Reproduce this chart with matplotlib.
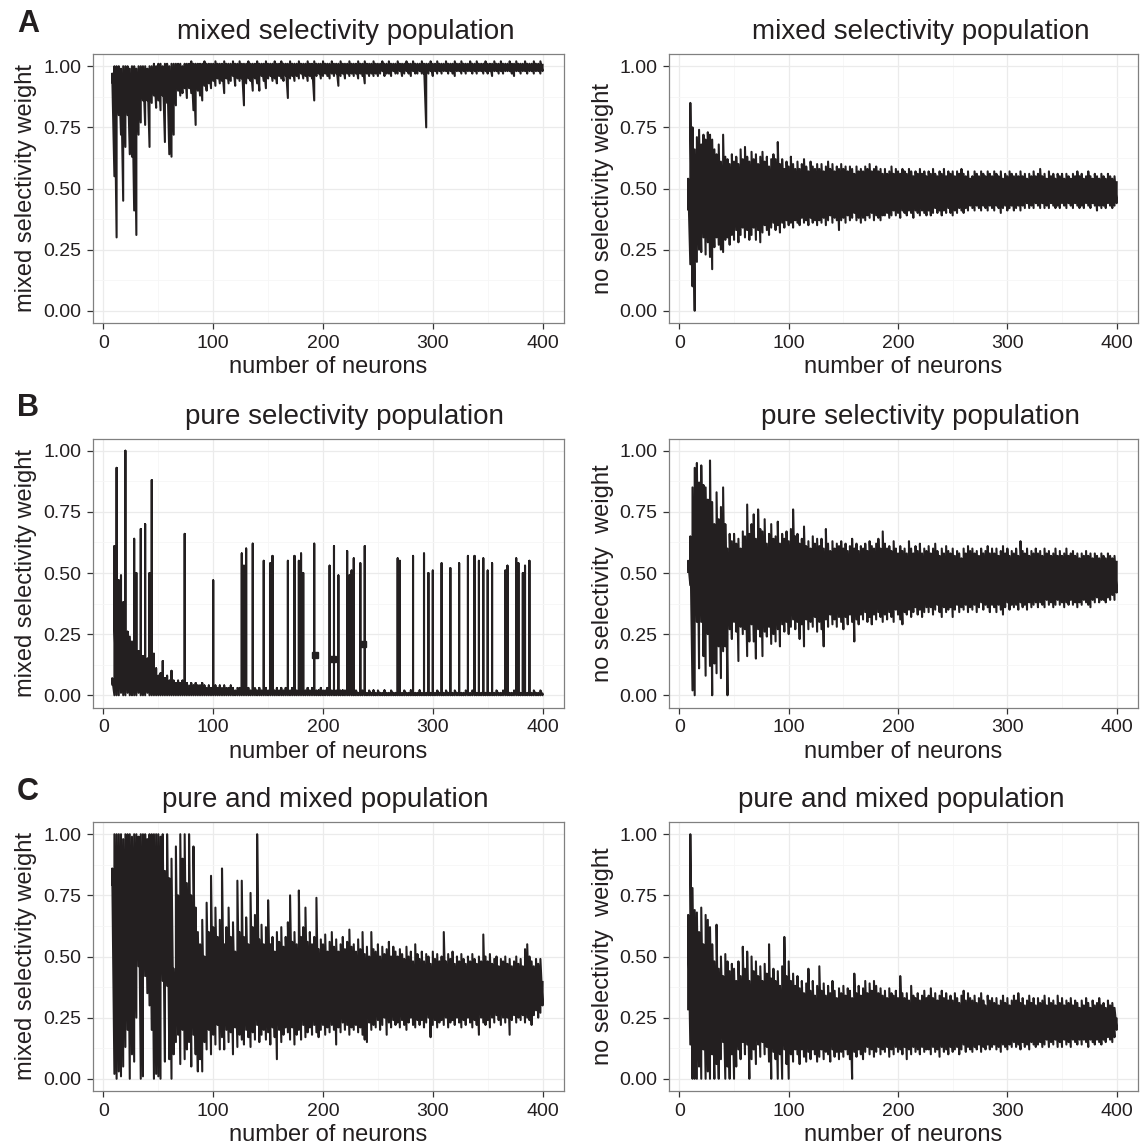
import numpy as np
import matplotlib
matplotlib.use("Agg")
import matplotlib.pyplot as plt
from matplotlib.ticker import FixedLocator

plt.rcParams['font.family'] = ['Liberation Sans', 'DejaVu Sans']

INK = '#231F20'

# neuron counts: first value at 8, then every 2 neurons up to 400
neuron_start = 8
neuron_step = 2

x_ticks = [0, 100, 200, 300, 400]
y_ticks = [0.0, 0.25, 0.5, 0.75, 1.0]
y_tick_labels = ['0.00', '0.25', '0.50', '0.75', '1.00']

# ---------------- Row A: mixed selectivity population ----------------
a_mixed_lo = [
    0.93, 0.55, 0.30, 0.80, 0.72, 0.45, 0.67, 0.80, 0.64, 0.63,
    0.41, 0.31, 0.72, 0.77, 0.86, 0.76, 0.86, 0.67, 0.85, 0.88,
    0.83, 0.86, 0.82, 0.88, 0.69, 0.85, 0.64, 0.63, 0.72, 0.84,
    0.90, 0.88, 0.89, 0.91, 0.87, 0.91, 0.89, 0.82, 0.76, 0.90,
    0.88, 0.86, 0.92, 0.90, 0.93, 0.91, 0.94, 0.92, 0.95, 0.93,
    0.94, 0.89, 0.95, 0.93, 0.94, 0.96, 0.92, 0.95, 0.94, 0.95,
    0.84, 0.93, 0.95, 0.94, 0.90, 0.95, 0.93, 0.90, 0.96, 0.94,
    0.91, 0.95, 0.96, 0.94, 0.95, 0.93, 0.96, 0.95, 0.94, 0.96,
    0.87, 0.95, 0.96, 0.94, 0.96, 0.95, 0.97, 0.95, 0.96, 0.94,
    0.96, 0.95, 0.86, 0.96, 0.97, 0.95, 0.96, 0.97, 0.96, 0.95,
    0.97, 0.96, 0.97, 0.92, 0.96, 0.97, 0.95, 0.97, 0.96, 0.97,
    0.96, 0.97, 0.95, 0.97, 0.96, 0.93, 0.97, 0.96, 0.97, 0.96,
    0.97, 0.96, 0.97, 0.98, 0.96, 0.97, 0.97, 0.96, 0.98, 0.97,
    0.97, 0.98, 0.96, 0.97, 0.98, 0.97, 0.96, 0.98, 0.97, 0.97,
    0.98, 0.97, 0.97, 0.75, 0.97, 0.98, 0.96, 0.98, 0.97, 0.98,
    0.97, 0.98, 0.98, 0.97, 0.98, 0.97, 0.96, 0.98, 0.98, 0.97,
    0.98, 0.97, 0.98, 0.98, 0.97, 0.98, 0.97, 0.98, 0.98, 0.97,
    0.98, 0.97, 0.98, 0.96, 0.98, 0.98, 0.97, 0.98, 0.97, 0.98,
    0.98, 0.98, 0.97, 0.96, 0.98, 0.98, 0.97, 0.98, 0.98, 0.97,
    0.98, 0.98, 0.97, 0.98, 0.98, 0.97, 0.98]
a_mixed_hi = [
    0.97, 1.00, 1.00, 1.00, 0.99, 1.00, 1.00, 1.00, 0.99, 1.00,
    1.00, 0.99, 1.00, 1.00, 1.00, 1.00, 0.99, 1.00, 1.00, 1.01,
    1.00, 1.01, 1.01, 1.00, 1.01, 1.01, 1.00, 1.01, 1.01, 1.01,
    1.01, 1.01, 1.00, 1.01, 1.01, 1.01, 1.02, 1.01, 1.01, 1.01,
    1.01, 1.01, 1.02, 1.01, 1.01, 1.01, 1.01, 1.02, 1.01, 1.01,
    1.01, 1.02, 1.01, 1.01, 1.01, 1.02, 1.01, 1.01, 1.02, 1.01,
    1.01, 1.01, 1.02, 1.01, 1.01, 1.01, 1.02, 1.01, 1.01, 1.01,
    1.02, 1.01, 1.01, 1.01, 1.02, 1.01, 1.01, 1.02, 1.01, 1.01,
    1.01, 1.02, 1.01, 1.01, 1.01, 1.02, 1.01, 1.01, 1.01, 1.02,
    1.01, 1.01, 1.02, 1.01, 1.01, 1.01, 1.02, 1.01, 1.01, 1.01,
    1.02, 1.01, 1.01, 1.01, 1.02, 1.01, 1.01, 1.01, 1.02, 1.01,
    1.01, 1.01, 1.02, 1.01, 1.01, 1.02, 1.01, 1.01, 1.01, 1.02,
    1.01, 1.01, 1.01, 1.02, 1.01, 1.01, 1.02, 1.01, 1.01, 1.01,
    1.02, 1.01, 1.01, 1.01, 1.02, 1.01, 1.01, 1.02, 1.01, 1.01,
    1.01, 1.02, 1.01, 1.01, 1.01, 1.02, 1.01, 1.01, 1.02, 1.01,
    1.01, 1.01, 1.02, 1.01, 1.01, 1.01, 1.02, 1.01, 1.01, 1.02,
    1.01, 1.01, 1.01, 1.02, 1.01, 1.01, 1.02, 1.01, 1.01, 1.01,
    1.02, 1.01, 1.01, 1.01, 1.02, 1.01, 1.01, 1.02, 1.01, 1.01,
    1.01, 1.02, 1.01, 1.01, 1.02, 1.01, 1.01, 1.01, 1.02, 1.01,
    1.01, 1.01, 1.02, 1.01, 1.01, 1.02, 1.01]

a_none_hi = [
    0.54, 0.85, 0.75, 0.66, 0.71, 0.74, 0.68, 0.72, 0.70, 0.73,
    0.72, 0.70, 0.66, 0.64, 0.68, 0.61, 0.72, 0.63, 0.62, 0.60,
    0.64, 0.61, 0.63, 0.60, 0.66, 0.62, 0.67, 0.63, 0.61, 0.65,
    0.62, 0.64, 0.60, 0.63, 0.65, 0.61, 0.63, 0.59, 0.62, 0.64,
    0.62, 0.69, 0.60, 0.62, 0.58, 0.61, 0.59, 0.63, 0.60, 0.58,
    0.61, 0.58, 0.60, 0.62, 0.59, 0.57, 0.61, 0.59, 0.58, 0.60,
    0.58, 0.60, 0.57, 0.59, 0.61, 0.58, 0.60, 0.57, 0.59, 0.58,
    0.60, 0.58, 0.59, 0.57, 0.59, 0.58, 0.56, 0.59, 0.57, 0.58,
    0.57, 0.59, 0.58, 0.60, 0.57, 0.58, 0.59, 0.57, 0.58, 0.56,
    0.58, 0.56, 0.57, 0.59, 0.56, 0.58, 0.57, 0.56, 0.58, 0.57,
    0.56, 0.58, 0.57, 0.55, 0.57, 0.56, 0.58, 0.56, 0.57, 0.55,
    0.57, 0.56, 0.58, 0.56, 0.55, 0.57, 0.56, 0.58, 0.55, 0.57,
    0.56, 0.57, 0.55, 0.57, 0.56, 0.58, 0.56, 0.55, 0.57, 0.54,
    0.55, 0.57, 0.56, 0.55, 0.57, 0.56, 0.55, 0.57, 0.56, 0.55,
    0.57, 0.56, 0.55, 0.57, 0.54, 0.56, 0.55, 0.57, 0.56, 0.55,
    0.56, 0.55, 0.57, 0.55, 0.56, 0.54, 0.56, 0.55, 0.57, 0.55,
    0.56, 0.58, 0.55, 0.56, 0.54, 0.57, 0.55, 0.56, 0.54, 0.56,
    0.55, 0.56, 0.54, 0.56, 0.55, 0.54, 0.56, 0.55, 0.57, 0.55,
    0.56, 0.54, 0.55, 0.57, 0.55, 0.54, 0.56, 0.55, 0.54, 0.56,
    0.55, 0.54, 0.56, 0.55, 0.54, 0.55, 0.53]
a_none_lo = [
    0.41, 0.19, 0.10, 0.00, 0.20, 0.25, 0.24, 0.30, 0.23, 0.28,
    0.22, 0.17, 0.26, 0.30, 0.27, 0.25, 0.24, 0.29, 0.30, 0.27,
    0.31, 0.29, 0.33, 0.28, 0.31, 0.34, 0.30, 0.33, 0.29, 0.31,
    0.34, 0.29, 0.33, 0.28, 0.32, 0.35, 0.33, 0.31, 0.34, 0.36,
    0.33, 0.35, 0.32, 0.36, 0.34, 0.37, 0.35, 0.36, 0.34, 0.37,
    0.36, 0.35, 0.38, 0.36, 0.37, 0.35, 0.38, 0.36, 0.37, 0.35,
    0.37, 0.36, 0.38, 0.35, 0.37, 0.39, 0.36, 0.38, 0.37, 0.33,
    0.37, 0.38, 0.36, 0.39, 0.37, 0.38, 0.40, 0.37, 0.38, 0.36,
    0.38, 0.37, 0.39, 0.38, 0.40, 0.37, 0.39, 0.38, 0.37, 0.39,
    0.39, 0.40, 0.38, 0.39, 0.41, 0.39, 0.40, 0.38, 0.41, 0.40,
    0.39, 0.41, 0.40, 0.38, 0.41, 0.40, 0.39, 0.41, 0.40, 0.39,
    0.41, 0.39, 0.40, 0.42, 0.40, 0.41, 0.39, 0.41, 0.40, 0.42,
    0.40, 0.39, 0.41, 0.40, 0.42, 0.41, 0.40, 0.42, 0.41, 0.43,
    0.42, 0.41, 0.43, 0.42, 0.41, 0.43, 0.42, 0.41, 0.43, 0.42,
    0.41, 0.43, 0.42, 0.40, 0.42, 0.43, 0.41, 0.42, 0.43, 0.41,
    0.42, 0.43, 0.41, 0.43, 0.42, 0.44, 0.42, 0.43, 0.42, 0.44,
    0.43, 0.42, 0.44, 0.42, 0.43, 0.42, 0.44, 0.43, 0.42, 0.43,
    0.42, 0.44, 0.43, 0.42, 0.44, 0.43, 0.42, 0.44, 0.43, 0.42,
    0.43, 0.42, 0.44, 0.43, 0.42, 0.44, 0.43, 0.41, 0.43, 0.42,
    0.43, 0.42, 0.44, 0.43, 0.42, 0.43, 0.44]

# ---------------- Row B: pure selectivity population ----------------
b_mixed_lo = [
    0.04, 0.00, 0.00, 0.00, 0.01, 0.00, 0.00, 0.01, 0.00, 0.00,
    0.00, 0.00, 0.01, 0.00, 0.00, 0.00, 0.01, 0.00, 0.00, 0.00,
    0.00, 0.00, 0.00, 0.00, 0.00, 0.00, 0.00, 0.00, 0.00, 0.00,
    0.00, 0.00, 0.00, 0.00, 0.00, 0.00, 0.00, 0.00, 0.00, 0.00,
    0.00, 0.00, 0.00, 0.00, 0.00, 0.00, 0.00, 0.00, 0.00, 0.00,
    0.00, 0.00, 0.00, 0.00, 0.00, 0.00, 0.00, 0.00, 0.00, 0.00,
    0.00, 0.00, 0.00, 0.00, 0.00, 0.00, 0.00, 0.00, 0.00, 0.00,
    0.00, 0.00, 0.00, 0.00, 0.00, 0.00, 0.00, 0.00, 0.00, 0.00,
    0.00, 0.00, 0.00, 0.00, 0.00, 0.00, 0.00, 0.00, 0.00, 0.00,
    0.00, 0.00, 0.00, 0.00, 0.00, 0.00, 0.00, 0.00, 0.00, 0.00,
    0.00, 0.00, 0.00, 0.00, 0.00, 0.00, 0.00, 0.00, 0.00, 0.00,
    0.00, 0.00, 0.00, 0.00, 0.00, 0.00, 0.00, 0.00, 0.00, 0.00,
    0.00, 0.00, 0.00, 0.00, 0.00, 0.00, 0.00, 0.00, 0.00, 0.00,
    0.00, 0.00, 0.00, 0.00, 0.00, 0.00, 0.00, 0.00, 0.00, 0.00,
    0.00, 0.00, 0.00, 0.00, 0.00, 0.00, 0.00, 0.00, 0.00, 0.00,
    0.00, 0.00, 0.00, 0.00, 0.00, 0.00, 0.00, 0.00, 0.00, 0.00,
    0.00, 0.00, 0.00, 0.00, 0.00, 0.00, 0.00, 0.00, 0.00, 0.00,
    0.00, 0.00, 0.00, 0.00, 0.00, 0.00, 0.00, 0.00, 0.00, 0.00,
    0.00, 0.00, 0.00, 0.00, 0.00, 0.00, 0.00, 0.00, 0.00, 0.00,
    0.00, 0.00, 0.00, 0.00, 0.00, 0.00, 0.00]
b_mixed_hi = [
    0.07, 0.61, 0.93, 0.47, 0.49, 0.38, 1.00, 0.26, 0.24, 0.22,
    0.64, 0.50, 0.18, 0.68, 0.16, 0.70, 0.15, 0.50, 0.88, 0.17,
    0.11, 0.08, 0.09, 0.14, 0.07, 0.08, 0.06, 0.10, 0.06, 0.05,
    0.06, 0.05, 0.06, 0.66, 0.05, 0.04, 0.05, 0.04, 0.05, 0.04,
    0.04, 0.05, 0.04, 0.03, 0.04, 0.03, 0.47, 0.04, 0.03, 0.04,
    0.03, 0.04, 0.03, 0.03, 0.04, 0.03, 0.02, 0.03, 0.03, 0.58,
    0.53, 0.60, 0.03, 0.02, 0.62, 0.03, 0.02, 0.03, 0.02, 0.55,
    0.03, 0.02, 0.54, 0.57, 0.02, 0.03, 0.02, 0.03, 0.02, 0.03,
    0.55, 0.02, 0.03, 0.57, 0.02, 0.55, 0.58, 0.50, 0.02, 0.03,
    0.02, 0.03, 0.62, 0.02, 0.02, 0.03, 0.02, 0.02, 0.03, 0.53,
    0.02, 0.61, 0.02, 0.49, 0.02, 0.02, 0.01, 0.59, 0.49, 0.51,
    0.56, 0.02, 0.01, 0.54, 0.02, 0.61, 0.01, 0.02, 0.01, 0.02,
    0.01, 0.02, 0.01, 0.01, 0.02, 0.01, 0.01, 0.02, 0.01, 0.01,
    0.56, 0.55, 0.01, 0.02, 0.01, 0.01, 0.02, 0.57, 0.01, 0.01,
    0.02, 0.01, 0.58, 0.01, 0.50, 0.01, 0.51, 0.01, 0.02, 0.01,
    0.54, 0.01, 0.02, 0.01, 0.52, 0.01, 0.02, 0.01, 0.54, 0.01,
    0.01, 0.02, 0.57, 0.01, 0.02, 0.57, 0.01, 0.55, 0.01, 0.56,
    0.01, 0.51, 0.01, 0.54, 0.01, 0.02, 0.01, 0.01, 0.02, 0.51,
    0.53, 0.01, 0.01, 0.02, 0.56, 0.54, 0.01, 0.50, 0.53, 0.01,
    0.55, 0.01, 0.02, 0.01, 0.01, 0.02, 0.01]
b_mixed_base = [
    0.07, 0.30, 0.38, 0.35, 0.32, 0.30, 0.26, 0.25, 0.24, 0.22,
    0.20, 0.18, 0.15, 0.14, 0.12, 0.12, 0.11, 0.10, 0.09, 0.08,
    0.07, 0.06, 0.06, 0.05, 0.05, 0.05, 0.04, 0.05, 0.04, 0.04,
    0.04, 0.04, 0.03, 0.04, 0.03, 0.04, 0.03, 0.03, 0.04, 0.03,
    0.03, 0.04, 0.03, 0.03, 0.03, 0.02, 0.03, 0.03, 0.02, 0.03,
    0.03, 0.02, 0.03, 0.02, 0.03, 0.02, 0.02, 0.03, 0.02, 0.02,
    0.02, 0.03, 0.02, 0.02, 0.02, 0.03, 0.02, 0.02, 0.02, 0.02,
    0.02, 0.02, 0.02, 0.03, 0.02, 0.02, 0.02, 0.02, 0.02, 0.02,
    0.02, 0.02, 0.02, 0.02, 0.02, 0.02, 0.02, 0.02, 0.02, 0.02,
    0.02, 0.02, 0.02, 0.02, 0.01, 0.02, 0.02, 0.02, 0.01, 0.02,
    0.02, 0.01, 0.02, 0.01, 0.02, 0.01, 0.02, 0.01, 0.02, 0.01,
    0.01, 0.02, 0.01, 0.01, 0.02, 0.01, 0.01, 0.02, 0.01, 0.01,
    0.01, 0.02, 0.01, 0.01, 0.01, 0.01, 0.01, 0.02, 0.01, 0.01,
    0.01, 0.01, 0.01, 0.02, 0.01, 0.01, 0.01, 0.01, 0.01, 0.01,
    0.01, 0.01, 0.01, 0.01, 0.01, 0.01, 0.01, 0.01, 0.02, 0.01,
    0.01, 0.01, 0.02, 0.01, 0.01, 0.01, 0.02, 0.01, 0.01, 0.01,
    0.01, 0.02, 0.01, 0.01, 0.02, 0.01, 0.01, 0.01, 0.01, 0.01,
    0.01, 0.01, 0.01, 0.01, 0.01, 0.02, 0.01, 0.01, 0.02, 0.01,
    0.01, 0.01, 0.01, 0.02, 0.01, 0.01, 0.01, 0.01, 0.01, 0.01,
    0.01, 0.01, 0.02, 0.01, 0.01, 0.02, 0.01]
b_blob_x = [193, 209, 236]
b_blob_y = [0.165, 0.15, 0.21]

b_none_hi = [
    0.55, 0.65, 0.85, 0.93, 0.95, 0.87, 0.94, 0.86, 0.85, 0.80,
    0.96, 0.79, 0.70, 0.83, 0.72, 0.77, 0.85, 0.70, 0.60, 0.66,
    0.63, 0.66, 0.62, 0.64, 0.60, 0.67, 0.65, 0.78, 0.66, 0.70,
    0.74, 0.64, 0.76, 0.68, 0.67, 0.72, 0.62, 0.66, 0.70, 0.64,
    0.65, 0.71, 0.62, 0.66, 0.64, 0.67, 0.63, 0.68, 0.76, 0.65,
    0.66, 0.62, 0.64, 0.69, 0.61, 0.63, 0.60, 0.65, 0.62, 0.64,
    0.61, 0.64, 0.60, 0.68, 0.62, 0.59, 0.63, 0.60, 0.62, 0.61,
    0.63, 0.60, 0.62, 0.59, 0.61, 0.64, 0.60, 0.62, 0.59, 0.61,
    0.60, 0.62, 0.59, 0.63, 0.61, 0.60, 0.62, 0.64, 0.60, 0.67,
    0.62, 0.60, 0.61, 0.59, 0.63, 0.60, 0.58, 0.61, 0.59, 0.60,
    0.58, 0.63, 0.60, 0.58, 0.61, 0.59, 0.62, 0.58, 0.60, 0.59,
    0.61, 0.58, 0.60, 0.62, 0.59, 0.57, 0.60, 0.58, 0.61, 0.59,
    0.58, 0.60, 0.57, 0.59, 0.58, 0.56, 0.60, 0.58, 0.61, 0.59,
    0.60, 0.58, 0.59, 0.57, 0.60, 0.58, 0.59, 0.61, 0.58, 0.60,
    0.58, 0.60, 0.57, 0.59, 0.61, 0.58, 0.60, 0.57, 0.59, 0.58,
    0.60, 0.57, 0.63, 0.59, 0.58, 0.60, 0.57, 0.59, 0.58, 0.60,
    0.58, 0.59, 0.57, 0.60, 0.58, 0.59, 0.57, 0.58, 0.60, 0.57,
    0.59, 0.57, 0.58, 0.60, 0.57, 0.58, 0.59, 0.57, 0.58, 0.56,
    0.58, 0.57, 0.59, 0.57, 0.58, 0.56, 0.58, 0.57, 0.56, 0.58,
    0.57, 0.56, 0.58, 0.57, 0.56, 0.57, 0.55]
b_none_lo = [
    0.50, 0.45, 0.02, 0.00, 0.30, 0.11, 0.30, 0.16, 0.08, 0.25,
    0.12, 0.00, 0.13, 0.09, 0.20, 0.07, 0.18, 0.20, 0.00, 0.27,
    0.23, 0.30, 0.26, 0.14, 0.28, 0.25, 0.27, 0.16, 0.22, 0.29,
    0.22, 0.15, 0.27, 0.24, 0.16, 0.26, 0.24, 0.28, 0.21, 0.25,
    0.22, 0.27, 0.20, 0.29, 0.26, 0.30, 0.25, 0.28, 0.31, 0.27,
    0.30, 0.23, 0.29, 0.20, 0.31, 0.27, 0.30, 0.28, 0.32, 0.26,
    0.30, 0.27, 0.20, 0.31, 0.28, 0.33, 0.29, 0.31, 0.28, 0.32,
    0.30, 0.27, 0.32, 0.29, 0.33, 0.30, 0.22, 0.31, 0.29, 0.33,
    0.31, 0.34, 0.30, 0.32, 0.29, 0.33, 0.31, 0.34, 0.32, 0.30,
    0.33, 0.31, 0.34, 0.32, 0.30, 0.35, 0.33, 0.31, 0.29, 0.34,
    0.33, 0.35, 0.32, 0.34, 0.36, 0.33, 0.35, 0.32, 0.34, 0.36,
    0.34, 0.36, 0.33, 0.35, 0.37, 0.34, 0.32, 0.36, 0.34, 0.35,
    0.36, 0.32, 0.35, 0.37, 0.34, 0.36, 0.35, 0.37, 0.34, 0.36,
    0.35, 0.37, 0.34, 0.36, 0.38, 0.35, 0.37, 0.36, 0.34, 0.37,
    0.36, 0.34, 0.37, 0.35, 0.33, 0.36, 0.38, 0.35, 0.37, 0.36,
    0.37, 0.35, 0.38, 0.36, 0.37, 0.35, 0.38, 0.36, 0.37, 0.38,
    0.36, 0.38, 0.37, 0.36, 0.39, 0.37, 0.38, 0.36, 0.37, 0.39,
    0.37, 0.38, 0.36, 0.38, 0.37, 0.39, 0.37, 0.38, 0.36, 0.38,
    0.37, 0.39, 0.38, 0.37, 0.36, 0.39, 0.38, 0.40, 0.38, 0.39,
    0.39, 0.38, 0.40, 0.39, 0.41, 0.39, 0.42]

# ---------------- Row C: pure and mixed population ----------------
c_mixed_hi = [
    0.86, 1.00, 1.00, 1.00, 1.00, 0.98, 1.00, 1.00, 1.00, 0.99,
    1.00, 1.00, 0.99, 1.00, 1.00, 1.00, 0.98, 1.00, 1.00, 1.00,
    1.00, 1.00, 0.99, 1.00, 0.85, 1.00, 0.82, 0.90, 0.45, 0.95,
    0.75, 1.00, 0.90, 1.00, 0.80, 1.00, 0.75, 0.95, 0.70, 0.60,
    0.55, 0.65, 0.50, 0.72, 0.60, 0.83, 0.62, 0.70, 0.58, 0.65,
    0.86, 0.55, 0.62, 0.70, 0.58, 0.64, 0.52, 0.81, 0.60, 0.81,
    0.58, 0.66, 0.55, 0.76, 0.62, 0.67, 1.00, 0.57, 0.63, 0.55,
    0.62, 0.73, 0.55, 0.58, 0.52, 0.60, 0.56, 0.62, 0.54, 0.58,
    0.64, 0.75, 0.56, 0.60, 0.55, 0.77, 0.58, 0.62, 0.70, 0.56,
    0.60, 0.55, 0.58, 0.74, 0.53, 0.57, 0.55, 0.59, 0.52, 0.56,
    0.60, 0.54, 0.57, 0.52, 0.55, 0.58, 0.53, 0.56, 0.61, 0.54,
    0.55, 0.52, 0.57, 0.53, 0.60, 0.51, 0.54, 0.50, 0.60, 0.53,
    0.52, 0.55, 0.50, 0.54, 0.51, 0.53, 0.56, 0.50, 0.54, 0.52,
    0.50, 0.53, 0.51, 0.49, 0.54, 0.50, 0.52, 0.48, 0.55, 0.51,
    0.49, 0.52, 0.48, 0.51, 0.50, 0.47, 0.52, 0.49, 0.51, 0.48,
    0.50, 0.60, 0.48, 0.51, 0.49, 0.52, 0.47, 0.50, 0.48, 0.51,
    0.49, 0.47, 0.50, 0.48, 0.51, 0.49, 0.47, 0.50, 0.48, 0.59,
    0.50, 0.48, 0.51, 0.47, 0.49, 0.50, 0.46, 0.49, 0.48, 0.50,
    0.47, 0.49, 0.46, 0.48, 0.50, 0.47, 0.49, 0.46, 0.53, 0.55,
    0.50, 0.48, 0.46, 0.49, 0.47, 0.49, 0.40]
c_mixed_lo = [
    0.79, 0.02, 0.00, 0.03, 0.01, 0.05, 0.13, 0.20, 0.00, 0.10,
    0.07, 0.25, 0.46, 0.00, 0.01, 0.42, 0.35, 0.30, 0.20, 0.00,
    0.02, 0.01, 0.00, 0.40, 0.07, 0.38, 0.08, 0.00, 0.10, 0.15,
    0.18, 0.06, 0.20, 0.08, 0.12, 0.15, 0.05, 0.18, 0.10, 0.03,
    0.08, 0.03, 0.15, 0.12, 0.20, 0.10, 0.18, 0.14, 0.22, 0.12,
    0.17, 0.12, 0.20, 0.15, 0.19, 0.10, 0.21, 0.13, 0.18, 0.16,
    0.14, 0.20, 0.17, 0.13, 0.19, 0.16, 0.22, 0.15, 0.18, 0.20,
    0.16, 0.19, 0.14, 0.21, 0.17, 0.08, 0.20, 0.15, 0.18, 0.21,
    0.19, 0.16, 0.21, 0.14, 0.18, 0.20, 0.16, 0.22, 0.17, 0.19,
    0.21, 0.18, 0.22, 0.19, 0.17, 0.20, 0.22, 0.18, 0.21, 0.19,
    0.22, 0.20, 0.14, 0.21, 0.19, 0.23, 0.20, 0.22, 0.18, 0.21,
    0.20, 0.22, 0.19, 0.21, 0.18, 0.16, 0.15, 0.23, 0.20, 0.22,
    0.21, 0.24, 0.20, 0.22, 0.25, 0.18, 0.23, 0.21, 0.24, 0.22,
    0.23, 0.21, 0.24, 0.22, 0.20, 0.23, 0.25, 0.22, 0.21, 0.24,
    0.22, 0.24, 0.21, 0.23, 0.25, 0.17, 0.22, 0.24, 0.21, 0.23,
    0.24, 0.22, 0.25, 0.21, 0.23, 0.24, 0.22, 0.25, 0.23, 0.21,
    0.24, 0.22, 0.25, 0.23, 0.21, 0.24, 0.22, 0.18, 0.25, 0.23,
    0.22, 0.24, 0.21, 0.25, 0.23, 0.26, 0.24, 0.22, 0.25, 0.23,
    0.25, 0.18, 0.24, 0.26, 0.23, 0.25, 0.24, 0.26, 0.23, 0.25,
    0.24, 0.22, 0.26, 0.28, 0.25, 0.27, 0.30]

c_none_hi = [
    0.67, 1.00, 0.78, 0.69, 0.68, 0.60, 0.70, 0.55, 0.67, 0.65,
    0.62, 0.55, 0.48, 0.63, 0.45, 0.50, 0.42, 0.51, 0.48, 0.44,
    0.47, 0.45, 0.40, 0.48, 0.42, 0.54, 0.45, 0.52, 0.40, 0.50,
    0.44, 0.48, 0.42, 0.46, 0.40, 0.47, 0.43, 0.55, 0.41, 0.45,
    0.40, 0.44, 0.38, 0.46, 0.58, 0.42, 0.48, 0.40, 0.43, 0.38,
    0.42, 0.37, 0.40, 0.35, 0.39, 0.45, 0.36, 0.40, 0.34, 0.38,
    0.46, 0.36, 0.39, 0.34, 0.38, 0.35, 0.40, 0.36, 0.33, 0.37,
    0.35, 0.38, 0.34, 0.37, 0.36, 0.33, 0.43, 0.35, 0.38, 0.34,
    0.37, 0.40, 0.35, 0.39, 0.36, 0.40, 0.38, 0.35, 0.37, 0.34,
    0.36, 0.33, 0.37, 0.35, 0.34, 0.36, 0.33, 0.42, 0.35, 0.33,
    0.35, 0.32, 0.38, 0.34, 0.33, 0.35, 0.32, 0.34, 0.36, 0.33,
    0.34, 0.37, 0.33, 0.35, 0.32, 0.34, 0.36, 0.33, 0.35, 0.32,
    0.34, 0.32, 0.35, 0.33, 0.31, 0.34, 0.36, 0.32, 0.35, 0.33,
    0.32, 0.34, 0.31, 0.33, 0.35, 0.32, 0.30, 0.34, 0.32, 0.33,
    0.31, 0.33, 0.30, 0.32, 0.34, 0.31, 0.33, 0.30, 0.32, 0.34,
    0.32, 0.35, 0.31, 0.33, 0.30, 0.32, 0.34, 0.31, 0.33, 0.30,
    0.33, 0.31, 0.32, 0.34, 0.30, 0.33, 0.31, 0.32, 0.30, 0.34,
    0.31, 0.33, 0.30, 0.32, 0.31, 0.33, 0.30, 0.32, 0.31, 0.29,
    0.32, 0.30, 0.33, 0.31, 0.29, 0.32, 0.30, 0.31, 0.33, 0.30,
    0.31, 0.29, 0.32, 0.30, 0.31, 0.29, 0.25]
c_none_lo = [
    0.28, 0.14, 0.00, 0.00, 0.00, 0.05, 0.00, 0.12, 0.00, 0.03,
    0.00, 0.10, 0.00, 0.06, 0.00, 0.08, 0.15, 0.00, 0.05, 0.00,
    0.10, 0.00, 0.05, 0.12, 0.08, 0.15, 0.10, 0.14, 0.00, 0.08,
    0.12, 0.06, 0.14, 0.09, 0.15, 0.10, 0.13, 0.07, 0.00, 0.11,
    0.08, 0.00, 0.10, 0.00, 0.12, 0.06, 0.00, 0.10, 0.07, 0.12,
    0.10, 0.06, 0.12, 0.09, 0.07, 0.11, 0.08, 0.12, 0.10, 0.07,
    0.09, 0.12, 0.08, 0.11, 0.10, 0.07, 0.12, 0.09, 0.11, 0.08,
    0.11, 0.09, 0.12, 0.10, 0.08, 0.00, 0.11, 0.09, 0.12, 0.10,
    0.08, 0.11, 0.13, 0.10, 0.12, 0.09, 0.11, 0.13, 0.10, 0.12,
    0.11, 0.13, 0.09, 0.12, 0.10, 0.13, 0.11, 0.12, 0.10, 0.13,
    0.08, 0.12, 0.10, 0.13, 0.11, 0.12, 0.10, 0.13, 0.11, 0.12,
    0.12, 0.10, 0.13, 0.11, 0.12, 0.09, 0.13, 0.11, 0.12, 0.10,
    0.13, 0.11, 0.12, 0.13, 0.10, 0.12, 0.14, 0.11, 0.13, 0.12,
    0.11, 0.13, 0.12, 0.14, 0.11, 0.13, 0.12, 0.14, 0.12, 0.13,
    0.14, 0.12, 0.13, 0.11, 0.14, 0.13, 0.12, 0.14, 0.13, 0.15,
    0.13, 0.14, 0.12, 0.15, 0.13, 0.14, 0.12, 0.15, 0.14, 0.13,
    0.14, 0.15, 0.13, 0.14, 0.16, 0.13, 0.15, 0.14, 0.16, 0.13,
    0.15, 0.13, 0.16, 0.14, 0.15, 0.13, 0.16, 0.15, 0.14, 0.16,
    0.14, 0.16, 0.15, 0.13, 0.16, 0.15, 0.14, 0.16, 0.15, 0.14,
    0.16, 0.15, 0.17, 0.16, 0.15, 0.17, 0.20]

panel_letters = ['A', 'B', 'C']
row_titles = ['mixed selectivity population', 'pure selectivity population',
              'pure and mixed population']
left_ylabel = 'mixed selectivity weight'
right_ylabels = ['no selectivity weight', 'no selectivity  weight',
                 'no selectivity  weight']
xlabel = 'number of neurons'

W, H = 1140, 1147
fig = plt.figure(figsize=(W / 100, H / 100), dpi=100)
fig.patch.set_facecolor('white')

row_tops = [54, 438.5, 822]
row_h = 269
col_lefts = [93, 669]
col_widths = [471, 469]
title_cx = [[345.5, 921], [344.5, 920.5], [325.5, 901.5]]


def fx(px):
    return px / W


def fy(py):
    return 1 - py / H


def draw_zigzag(ax, series_list):
    n = min(len(s) for s in series_list)
    x = neuron_start + neuron_step * np.arange(n)
    xs = np.repeat(x, len(series_list))
    ys = np.column_stack([np.asarray(s[:n], float) for s in series_list]).ravel()
    ax.plot(xs, ys, color=INK, lw=1.5, solid_joinstyle='round',
            solid_capstyle='butt', zorder=3)


def style(ax):
    ax.set_xlim(-9.5, 419.5)
    ax.set_ylim(-0.05, 1.05)
    ax.set_xticks(x_ticks)
    ax.set_yticks(y_ticks)
    ax.set_yticklabels(y_tick_labels)
    ax.xaxis.set_minor_locator(FixedLocator([50, 150, 250, 350]))
    ax.yaxis.set_minor_locator(FixedLocator([0.125, 0.375, 0.625, 0.875]))
    ax.grid(which='major', color='#EBEBEB', lw=0.9)
    ax.grid(which='minor', color='#F6F6F6', lw=0.6)
    ax.set_axisbelow(True)
    ax.tick_params(which='minor', length=0)
    ax.tick_params(which='major', length=4.3, width=0.9, color='#333333',
                   labelsize=14, labelcolor=INK, pad=4.0)
    for s in ax.spines.values():
        s.set_color('#808080')
        s.set_linewidth(0.9)


panel_data = [
    [[a_mixed_lo, a_mixed_hi], [a_none_lo, a_none_hi]],
    [[b_mixed_lo, b_mixed_hi, b_mixed_base], [b_none_lo, b_none_hi]],
    [[c_mixed_lo, c_mixed_hi], [c_none_lo, c_none_hi]],
]

for r in range(3):
    top = row_tops[r]
    for c in range(2):
        ax = fig.add_axes([fx(col_lefts[c]), fy(top + row_h),
                           col_widths[c] / W, row_h / H])
        style(ax)
        draw_zigzag(ax, panel_data[r][c])
        if r == 1 and c == 0:
            ax.plot(b_blob_x, b_blob_y, ls='none', marker='s', ms=4.5,
                    color=INK, zorder=4)
        # title
        fig.text(fx(title_cx[r][c]), fy(top - 15), row_titles[r],
                 ha='center', va='baseline', fontsize=20, color=INK)
        # x label
        fig.text(fx(col_lefts[c] + col_widths[c] / 2), fy(top + row_h + 50),
                 xlabel, ha='center', va='baseline', fontsize=17, color=INK)
        # y label
        ylab = left_ylabel if c == 0 else right_ylabels[r]
        ylx = 26.5 if c == 0 else 602.5
        fig.text(fx(ylx), fy(top + row_h / 2), ylab, rotation=90,
                 ha='center', va='center', fontsize=17, color=INK)
    fig.text(fx(17), fy(top - 22), panel_letters[r], ha='left',
             va='baseline', fontsize=22, fontweight='bold', color=INK)

fig.savefig('out.png', dpi=100, facecolor='white')
